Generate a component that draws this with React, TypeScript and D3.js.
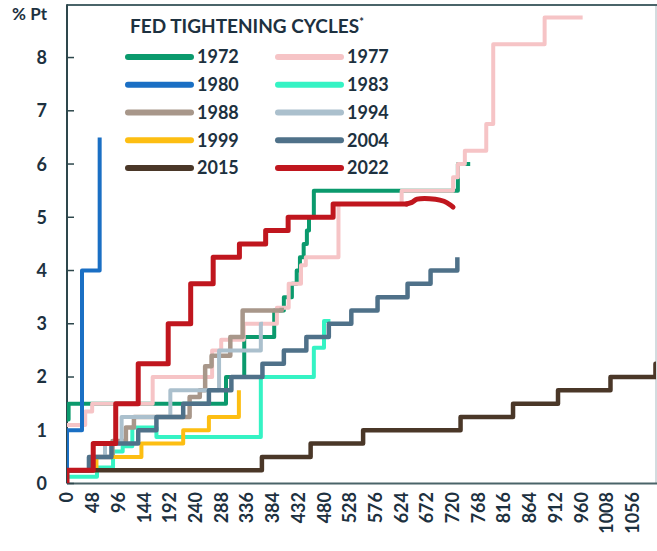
import React from "react";
import * as d3 from "d3";

type Pt = [number, number];

const xTicks = [0, 48, 96, 144, 192, 240, 288, 336, 384, 432, 480, 528, 576, 624, 672, 720, 768, 816, 864, 912, 960, 1008, 1056];
const yTicks = [0, 1, 2, 3, 4, 5, 6, 7, 8];

const c1972: Pt[] = [[0, 1.2], [3, 1.5], [297, 2.0], [331, 2.75], [387, 3.25], [405, 3.5], [420, 3.75], [429, 4.0], [435, 4.25], [442, 4.5], [448, 4.75], [452, 5.0], [461, 5.5], [730, 6.0], [753, 6.0]];
const c1977: Pt[] = [[0, 1.1], [34, 1.35], [47, 1.5], [160, 2.0], [271, 2.5], [288, 2.7], [330, 3.0], [392, 3.3], [414, 3.75], [437, 4.1], [446, 4.25], [507, 5.25], [625, 5.5], [721, 5.75], [730, 6.0], [743, 6.25], [783, 6.75], [796, 8.25], [892, 8.75], [963, 8.75]];
const c1980: Pt[] = [[0, 0], [0, 1.0], [28, 4.0], [61, 6.5]];
const c1983: Pt[] = [[0, 0.125], [56, 0.3], [86, 0.6], [104, 0.7], [122, 1.05], [167, 0.875], [362, 2.0], [461, 2.55], [480, 3.05], [492, 3.05]];
const c1988: Pt[] = [[0, 0.25], [48, 0.5], [85, 0.8], [110, 1.05], [125, 1.25], [229, 1.625], [248, 1.75], [258, 2.2], [270, 2.4], [305, 2.75], [328, 3.25], [401, 3.3]];
const c1994: Pt[] = [[0, 0.25], [45, 0.5], [71, 0.75], [102, 1.25], [193, 1.75], [284, 2.5], [362, 3.0], [366, 3.0]];
const c1999: Pt[] = [[0, 0.25], [55, 0.5], [139, 0.75], [217, 1.0], [265, 1.25], [321, 1.75]];
const c2004: Pt[] = [[0, 0.25], [41, 0.5], [83, 0.75], [133, 1.0], [167, 1.25], [217, 1.5], [265, 1.75], [307, 2.0], [365, 2.25], [405, 2.5], [447, 2.75], [489, 3.0], [531, 3.25], [580, 3.5], [636, 3.75], [679, 4.0], [729, 4.25]];
const c2015: Pt[] = [[0, 0.25], [364, 0.5], [455, 0.75], [553, 1.0], [735, 1.25], [833, 1.5], [917, 1.75], [1015, 2.0], [1099, 2.25], [1100, 2.25]];
const c2022: Pt[] = [[0, 0], [0, 0.25], [49, 0.75], [91, 1.5], [133, 2.25], [189, 3.0], [231, 3.75], [273, 4.25], [322, 4.5], [371, 4.75], [413, 5.0], [497, 5.25], [636, 5.25]];
const c2022Tail: Pt[] = [[634, 5.25], [644, 5.28], [654, 5.34], [688, 5.34], [704, 5.3], [716, 5.23], [721, 5.19]];

const series = [
  { name: "1972", color: "#0b9a6d", data: c1972, w: 4 },
  { name: "1977", color: "#f6c4c6", data: c1977, w: 4 },
  { name: "1980", color: "#1a6fc4", data: c1980, w: 4 },
  { name: "1983", color: "#35f3c4", data: c1983, w: 4 },
  { name: "1988", color: "#a8978a", data: c1988, w: 4.5 },
  { name: "1994", color: "#abc0cd", data: c1994, w: 4 },
  { name: "1999", color: "#fdbe12", data: c1999, w: 4 },
  { name: "2004", color: "#4f7189", data: c2004, w: 4.5 },
  { name: "2015", color: "#4a3728", data: c2015, w: 4.5 },
  { name: "2022", color: "#c0161e", data: c2022, w: 5 },
];

const legendCol1 = ["1972", "1980", "1988", "1999", "2015"];
const legendCol2 = ["1977", "1983", "1994", "2004", "2022"];

const TEXT = "#1d3140";
const FONT = "Lato, 'Open Sans', sans-serif";

export default function App() {
  const W = 657, H = 551;
  const left = 67, right = 656, top = 4.3, bottom = 483.5;
  const x = d3.scaleLinear().domain([0, 1100]).range([left, right]);
  const y = d3.scaleLinear().domain([0, 9]).range([bottom, top]);
  const stepLine = d3.line<Pt>().x(d => x(d[0])).y(d => y(d[1])).curve(d3.curveStepAfter);
  const smoothLine = d3.line<Pt>().x(d => x(d[0])).y(d => y(d[1])).curve(d3.curveCatmullRom);
  const colorOf = (n: string) => series.find(s => s.name === n)!.color;

  return (
    <svg width={W} height={H} style={{ position: "absolute", left: 0, top: 0, background: "#fff" }} fontFamily={FONT}>
      <defs>
        <clipPath id="plot"><rect x={left} y={top} width={right - left} height={bottom - top} /></clipPath>
      </defs>
      {/* frame */}
      <line x1={right} x2={right} y1={top} y2={bottom} stroke="#c5d0d4" strokeWidth={1.5} />
      <line x1={left} x2={right + 1} y1={top + 0.7} y2={top + 0.7} stroke="#4a6469" strokeWidth={2} />
      <line x1={left} x2={right + 1} y1={bottom} y2={bottom} stroke="#4a6469" strokeWidth={2} />
      <line x1={left} x2={left} y1={top} y2={bottom} stroke="#2e474c" strokeWidth={2} />
      {yTicks.map(t => (
        <g key={t}>
          <line x1={left} x2={left + 7} y1={y(t)} y2={y(t)} stroke="#2e474c" strokeWidth={1.5} />
          <text x={47} y={y(t)} dy="0.36em" textAnchor="end" fontSize={18} fontWeight={700} fill={TEXT}>{t}</text>
        </g>
      ))}
      <text x={47} y={20} textAnchor="end" fontSize={17} fontWeight={700} fill={TEXT}>% Pt</text>
      {xTicks.map(t => (
        <text key={t} transform={`translate(${x(t)},492) rotate(-90)`} dy="0.36em" textAnchor="end" fontSize={18} fontWeight={700} fill={TEXT}>{t}</text>
      ))}
      {/* series */}
      <g clipPath="url(#plot)" fill="none" strokeLinejoin="round">
        {series.map(s => (
          <path key={s.name} d={stepLine(s.data) || ""} stroke={s.color} strokeWidth={s.w} strokeLinecap="butt" />
        ))}
        <path d={smoothLine(c2022Tail) || ""} stroke={colorOf("2022")} strokeWidth={5} strokeLinecap="round" />
      </g>
      {/* legend */}
      <text x={130} y={33} fontSize={19} fontWeight={700} fill={TEXT}>FED TIGHTENING CYCLES<tspan dy={-7} fontSize={11}>*</tspan></text>
      {[legendCol1, legendCol2].map((col, ci) => col.map((n, i) => {
        const lx = ci === 0 ? 128 : 278;
        const ly = 57 + i * 27.75;
        return (
          <g key={n}>
            <line x1={lx} x2={lx + 63} y1={ly} y2={ly} stroke={colorOf(n)} strokeWidth={6} strokeLinecap="round" />
            <text x={lx + 69} y={ly} dy="0.36em" fontSize={18} fontWeight={700} fill={TEXT}>{n}</text>
          </g>
        );
      }))}
    </svg>
  );
}
